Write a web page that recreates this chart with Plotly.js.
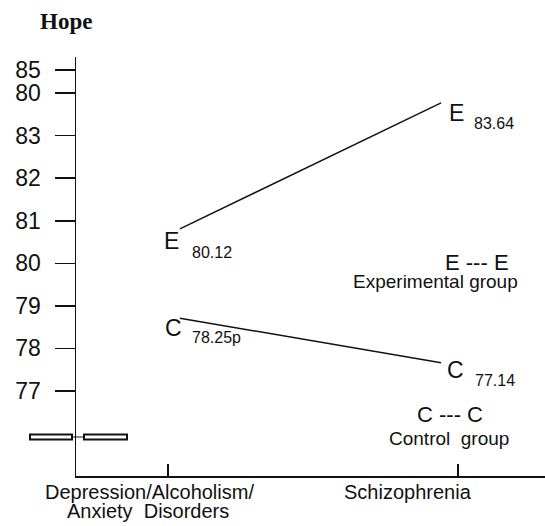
<!DOCTYPE html>
<html>
<head>
<meta charset="utf-8">
<script src="https://cdn.plot.ly/plotly-3.0.1.min.js"></script>
<style>html,body{margin:0;padding:0;background:#fff;}#chart{width:545px;height:526px;}</style>
</head>
<body>
<div id="chart"></div>
<script>
// ---- data ----
const categories = ["Depression/Alcoholism/ Anxiety Disorders", "Schizophrenia"];
const catLine1 = ["Depression/Alcoholism/", "Schizophrenia"];
const catLine2 = ["Anxiety  Disorders", ""];
const yTickVals = [84.54, 84, 83, 82, 81, 80, 79, 78, 77];
const yTickText = ["85", "80", "83", "82", "81", "80", "79", "78", "77"];
const groupLetters = ["E", "C"];
const groupNames = ["Experimental group", "Control  group"];
// printed mean values
const expValues = [80.12, 83.64];
const ctrlValues = [78.25, 77.14];
const ctrlSuffix = ["p", ""];
const expSuffix = ["", ""];
// heights at which the figure actually draws the points
const expDrawn = [80.81, 83.77];
const ctrlDrawn = [78.71, 77.66];

// ---- styling / layout helpers ----
const FONT = "Liberation Sans, Arial, Helvetica, sans-serif";
const W = 545, H = 526, ML = 76, MR = 0, MT = 57, MB = 50;
const PW = W - ML - MR, PH = H - MT - MB;
const px2paperX = p => (p - ML) / PW;
const px2paperY = p => (H - MB - p) / PH;

const idx = categories.map((c, i) => i);

const traces = [
  {x: idx, y: expDrawn, xaxis: "x2", yaxis: "y", mode: "lines", line: {color: "#111", width: 1.5}, name: groupNames[0], hoverinfo: "skip"},
  {x: idx, y: ctrlDrawn, xaxis: "x2", yaxis: "y", mode: "lines", line: {color: "#111", width: 1.5}, name: groupNames[1], hoverinfo: "skip"}
];

// offsets (px) of letters and value labels relative to drawn points
const letterOff = [[[-8.5, -12.5], [15, -10]], [[-6.5, -9.5], [14.5, -7]]];
const labelOff = [[[10, -24], [31, -20.5]], [[10, -19.5], [32, -17.5]]];

const annotations = [];
const series = [
  {drawn: expDrawn, vals: expValues, suf: expSuffix},
  {drawn: ctrlDrawn, vals: ctrlValues, suf: ctrlSuffix}
];
series.forEach((s, g) => {
  idx.forEach(i => {
    annotations.push({x: i, y: s.drawn[i], xref: "x2", yref: "y", text: groupLetters[g], showarrow: false,
      xanchor: "center", yanchor: "middle", xshift: letterOff[g][i][0], yshift: letterOff[g][i][1],
      font: {family: FONT, size: 23, color: "#111"}});
    annotations.push({x: i, y: s.drawn[i], xref: "x2", yref: "y", text: s.vals[i].toFixed(2) + s.suf[i], showarrow: false,
      xanchor: "left", yanchor: "middle", xshift: labelOff[g][i][0], yshift: labelOff[g][i][1],
      font: {family: FONT, size: 16, color: "#111"}});
  });
});

// category labels
const catShift = [-18, -50.5];
idx.forEach(i => {
  annotations.push({x: i, y: px2paperY(492), xref: "x", yref: "paper", text: catLine1[i], showarrow: false,
    xanchor: "center", yanchor: "middle", xshift: catShift[i], font: {family: FONT, size: 20, color: "#111"}});
  if (catLine2[i]) annotations.push({x: i, y: px2paperY(511), xref: "x", yref: "paper", text: catLine2[i], showarrow: false,
    xanchor: "center", yanchor: "middle", xshift: catShift[i] - 1.5, font: {family: FONT, size: 20, color: "#111"}});
});

// legend-like key
const keyPos = [{lx: 476.5, ly: 262, tx: 435.5, ty: 281}, {lx: 449.5, ly: 414, tx: 448.5, ty: 438}];
groupLetters.forEach((L, g) => {
  annotations.push({x: px2paperX(keyPos[g].lx), y: px2paperY(keyPos[g].ly), xref: "paper", yref: "paper",
    text: L + " --- " + L, showarrow: false, xanchor: "center", yanchor: "middle",
    font: {family: FONT, size: 22, color: "#111"}});
  annotations.push({x: px2paperX(keyPos[g].tx), y: px2paperY(keyPos[g].ty), xref: "paper", yref: "paper",
    text: groupNames[g], showarrow: false, xanchor: "center", yanchor: "middle",
    font: {family: FONT, size: 19, color: "#111"}});
});

// axis break symbol
const brY0 = px2paperY(439.5), brY1 = px2paperY(434.5), brYm = px2paperY(437);
const shapes = [
  {type: "rect", xref: "paper", yref: "paper", x0: px2paperX(30), x1: px2paperX(72), y0: brY0, y1: brY1, line: {color: "#111", width: 2}, fillcolor: "#fff"},
  {type: "rect", xref: "paper", yref: "paper", x0: px2paperX(84), x1: px2paperX(127), y0: brY0, y1: brY1, line: {color: "#111", width: 2}, fillcolor: "#fff"},
  {type: "line", xref: "paper", yref: "paper", x0: px2paperX(72), x1: px2paperX(84), y0: brYm, y1: brYm, line: {color: "#111", width: 1}}
];

const layout = {
  width: W, height: H,
  margin: {l: ML, r: MR, t: MT, b: MB, pad: 0},
  paper_bgcolor: "#fff", plot_bgcolor: "#fff",
  showlegend: false, hovermode: false,
  title: {text: "<b>Hope</b>", font: {family: "Liberation Serif, Times New Roman, serif", size: 23, color: "#111"},
    xref: "container", yref: "container", x: 40 / W, xanchor: "left", y: 1 - 21 / H, yanchor: "middle"},
  xaxis: {range: [-0.3172, 1.3], tickvals: idx, showticklabels: false, ticks: "inside", ticklen: 12, tickwidth: 1.5, tickcolor: "#111",
    showline: true, linecolor: "#111", linewidth: 1.5, showgrid: false, zeroline: false, fixedrange: true},
  xaxis2: {overlaying: "x", range: [-0.398, 1.398], visible: false, fixedrange: true},
  yaxis: {range: [75, 84.85], tickvals: yTickVals, ticktext: yTickText, ticks: "outside", ticklen: 20, tickwidth: 1.5, tickcolor: "#111",
    ticklabelstandoff: 9, tickfont: {family: FONT, size: 23, color: "#111"},
    showline: true, linecolor: "#111", linewidth: 1.5, showgrid: false, zeroline: false, fixedrange: true},
  annotations: annotations,
  shapes: shapes
};

Plotly.newPlot("chart", traces, layout, {displayModeBar: false, staticPlot: true});
</script>
</body>
</html>
